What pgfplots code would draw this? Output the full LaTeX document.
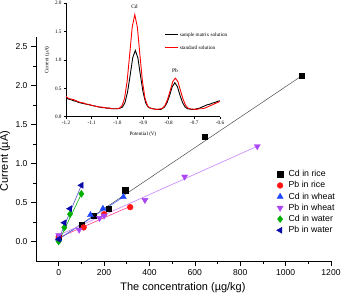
\documentclass[border=0pt]{standalone}
\usepackage{fontspec}
\setmainfont{Liberation Sans}
\newfontfamily\serif{Liberation Serif}
\usepackage{pgfplots}
\pgfplotsset{compat=1.18}
\definecolor{cdrice}{RGB}{0,0,0}
\definecolor{pbrice}{RGB}{255,20,20}
\definecolor{cdwheat}{RGB}{30,70,255}
\definecolor{pbwheat}{RGB}{170,70,245}
\definecolor{cdwater}{RGB}{0,175,0}
\definecolor{pbwater}{RGB}{10,10,170}
\begin{document}
\begin{tikzpicture}
\begin{axis}[
  name=main,
  at={(0,0)}, anchor=south west,
  scale only axis, width=295bp, height=224bp,
  xmin=-100, xmax=1200, ymin=-0.25, ymax=2.62,
  axis lines=left, axis line style={-, line width=0.8pt},
  tick align=outside,
  xtick={0,200,400,600,800,1000,1200}, minor x tick num=1,
  ytick={0,0.5,1,1.5,2,2.5}, minor y tick num=1,
  major tick length=5bp, minor tick length=3bp,
  tick style={black, line width=0.6pt},
  /pgf/number format/assume math mode=true,
  tick label style={font=\fontsize{8.6}{10}\selectfont},
  xticklabel style={/pgf/number format/.cd, fixed, 1000 sep={}},
  yticklabel style={/pgf/number format/.cd, fixed, fixed zerofill, precision=1},
  xlabel={The concentration (µg/kg)},
  ylabel={Current (µA)},
  every axis x label/.style={at={(axis description cs:0.498,-0.12)}, anchor=center, font=\fontsize{11}{13}\selectfont},
  every axis y label/.style={at={(axis description cs:-0.105,0.446)}, rotate=90, anchor=center, font=\fontsize{11}{13}\selectfont},
  legend style={at={(0.815,0.413)}, anchor=north west, draw=none, fill=none, inner sep=0pt,
    font=\fontsize{8.8}{10}\selectfont, row sep=0pt,
    nodes={text height=6.4bp, text depth=1.4bp, inner ysep=1.7bp},
    /tikz/every odd column/.append style={column sep=3.5bp},
    legend cell align=left},
]
% fit lines
\addplot[forget plot, color=black!70, line width=0.5pt] coordinates {(0,0.03) (1070,2.12)};
\addplot[forget plot, color=pbrice!60!magenta!80, line width=0.6pt] coordinates {(0,0.05) (315,0.45)};
\addplot[forget plot, color=cdwheat!80, line width=0.6pt] coordinates {(0,0.03) (285,0.57)};
\addplot[forget plot, color=pbwheat!60, line width=0.7pt] coordinates {(0,0.08) (875,1.22)};
\addplot[forget plot, color=cdwater, line width=0.6pt] coordinates {(0,0.0) (100,0.61)};
\addplot[forget plot, color=pbwater!70, line width=0.6pt] coordinates {(0,0.03) (100,0.72)};
% data
\addplot[only marks, mark=square*, mark size=2.6bp, color=cdrice] coordinates {
(0,0.05) (100,0.22) (153,0.326) (220,0.415) (293,0.657) (644,1.343) (1071,2.12)};
\addlegendentry{Cd in rice}
\addplot[only marks, mark=*, mark size=2.9bp, color=pbrice] coordinates {
(0,0.06) (110,0.18) (200,0.35) (315,0.44)};
\addlegendentry{Pb in rice}
\addplot[only marks, mark=triangle*, mark size=3.5bp, color=cdwheat] coordinates {
(0,0.03) (140,0.34) (195,0.42) (285,0.57)};
\addlegendentry{Cd in wheat}
\addplot[only marks, mark=triangle*, mark options={rotate=180}, mark size=3.5bp, color=pbwheat] coordinates {
(0,0.08) (90,0.15) (180,0.30) (200,0.33) (380,0.53) (555,0.83) (875,1.22)};
\addlegendentry{Pb in wheat}
\addplot[only marks, mark=diamond*, mark size=3.5bp, color=cdwater] coordinates {
(0,0.0) (25,0.18) (50,0.35) (100,0.61)};
\addlegendentry{Cd in water}
\addplot[only marks, mark=triangle*, mark options={rotate=90}, mark size=3.5bp, color=pbwater] coordinates {
(0,0.03) (25,0.24) (50,0.42) (100,0.72)};
\addlegendentry{Pb in water}
\end{axis}
\begin{axis}[
  at={(30bp,144.3bp)}, anchor=south west,
  scale only axis, width=154bp, height=113.4bp,
  xmin=-1.2, xmax=-0.6, ymin=0, ymax=2.0,
  axis lines=left, axis line style={-, line width=0.5pt},
  tick align=outside,
  xtick={-1.2,-1.1,-1.0,-0.9,-0.8,-0.7,-0.6},
  ytick={0,0.5,1,1.5,2},
  major tick length=2bp,
  tick style={black, line width=0.4pt},
  /pgf/number format/assume math mode=true,
  tick label style={font=\serif\fontsize{5.2}{6}\selectfont},
  xticklabel style={yshift=1bp, /pgf/number format/.cd, fixed, fixed zerofill, precision=1},
  yticklabel style={xshift=1bp, /pgf/number format/.cd, fixed, fixed zerofill, precision=1},
  xlabel={Potential (V)}, ylabel={Current (µA)},
  every axis x label/.style={at={(axis description cs:0.5,-0.155)}, anchor=center, font=\serif\fontsize{5.2}{6}\selectfont},
  every axis y label/.style={at={(axis description cs:-0.123,0.5)}, rotate=90, anchor=center, font=\serif\fontsize{5.2}{6}\selectfont},
  legend style={at={(0.64,0.75)}, anchor=north west, draw=none, fill=none, inner sep=0pt,
    font=\serif\fontsize{5.2}{6}\selectfont, row sep=7bp, legend cell align=left,
    nodes={text height=4bp, text depth=1bp, inner ysep=0.5bp, inner xsep=1bp}},
  legend image code/.code={\draw[#1, line width=1pt] (0bp,0bp) -- (13bp,0bp);},
]
\addplot[black, line width=0.9pt] coordinates {
(-1.2,0.33) (-1.19,0.31) (-1.18,0.30) (-1.17,0.28) (-1.16,0.27) (-1.15,0.25) (-1.14,0.24)
(-1.13,0.23) (-1.12,0.22) (-1.11,0.21) (-1.1,0.20) (-1.09,0.19) (-1.08,0.18) (-1.07,0.17)
(-1.06,0.16) (-1.05,0.16) (-1.04,0.15) (-1.03,0.15) (-1.02,0.14) (-1.01,0.14) (-1.0,0.14)
(-0.99,0.15) (-0.98,0.17) (-0.97,0.25) (-0.96,0.44) (-0.95,0.73) (-0.94,1.04) (-0.93,1.17)
(-0.92,1.04) (-0.91,0.73) (-0.90,0.44) (-0.89,0.25) (-0.88,0.17) (-0.87,0.15) (-0.86,0.14)
(-0.85,0.13) (-0.84,0.13) (-0.83,0.13) (-0.826,0.14) (-0.816,0.17) (-0.806,0.25) (-0.796,0.38)
(-0.786,0.53) (-0.776,0.60) (-0.766,0.53) (-0.756,0.38) (-0.746,0.25) (-0.736,0.17) (-0.726,0.14)
(-0.71,0.13) (-0.70,0.13) (-0.69,0.14) (-0.68,0.15) (-0.67,0.17) (-0.66,0.19) (-0.65,0.21)
(-0.64,0.22) (-0.63,0.24) (-0.62,0.25) (-0.61,0.27) (-0.6,0.28)};
\addlegendentry{sample matrix solution}
\addplot[red, line width=0.9pt] coordinates {
(-1.2,0.36) (-1.19,0.32) (-1.18,0.31) (-1.17,0.30) (-1.16,0.28) (-1.15,0.26) (-1.14,0.25)
(-1.13,0.24) (-1.12,0.22) (-1.11,0.22) (-1.1,0.20) (-1.09,0.19) (-1.08,0.18) (-1.07,0.17)
(-1.06,0.17) (-1.05,0.16) (-1.04,0.15) (-1.03,0.15) (-1.02,0.14) (-1.01,0.14) (-1.0,0.14)
(-0.992,0.15) (-0.982,0.19) (-0.972,0.32) (-0.962,0.62) (-0.952,1.09) (-0.942,1.58) (-0.932,1.80)
(-0.922,1.58) (-0.912,1.09) (-0.902,0.62) (-0.892,0.32) (-0.882,0.19) (-0.872,0.15) (-0.862,0.14)
(-0.852,0.13) (-0.844,0.13) (-0.834,0.136) (-0.824,0.15) (-0.814,0.20) (-0.804,0.31) (-0.794,0.46)
(-0.784,0.62) (-0.774,0.68) (-0.764,0.62) (-0.754,0.46) (-0.744,0.31) (-0.734,0.20) (-0.724,0.15)
(-0.714,0.136) (-0.70,0.13) (-0.69,0.13) (-0.68,0.14) (-0.67,0.14) (-0.66,0.15) (-0.65,0.17)
(-0.64,0.19) (-0.63,0.21) (-0.62,0.23) (-0.61,0.25) (-0.6,0.27)};
\addlegendentry{standard solution}
\node[font=\serif\fontsize{5.5}{6}\selectfont] at (axis cs:-0.933,1.95) {Cd};
\node[font=\serif\fontsize{5.5}{6}\selectfont] at (axis cs:-0.775,0.82) {Pb};
\end{axis}
\pgfresetboundingbox
\useasboundingbox (-36bp,-35bp) rectangle (305bp,261bp);
\end{tikzpicture}
\end{document}
